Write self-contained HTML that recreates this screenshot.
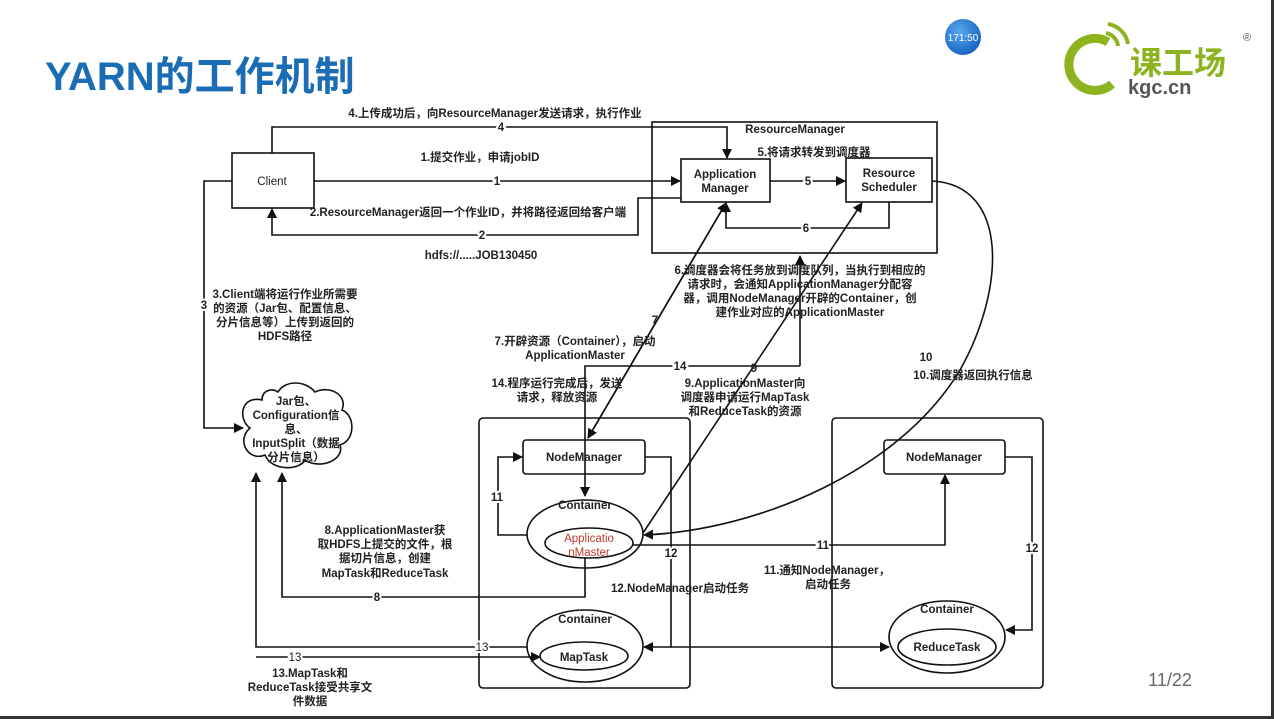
<!DOCTYPE html>
<html><head><meta charset="utf-8"><style>
html,body{margin:0;padding:0;background:#fff;}
svg{display:block;}
text{font-family:"Liberation Sans","Noto Sans CJK SC",sans-serif;font-weight:bold;font-size:11.5px;fill:#222;}
</style></head><body>
<svg width="1274" height="719" viewBox="0 0 1274 719" xmlns="http://www.w3.org/2000/svg">
<defs>
<marker id="a" markerWidth="10" markerHeight="10" refX="9" refY="5" orient="auto" markerUnits="userSpaceOnUse"><path d="M0,0 L10,5 L0,10 z" fill="#111"/></marker>
<radialGradient id="cg" cx="0.4" cy="0.35" r="0.7"><stop offset="0" stop-color="#5aa8f0"/><stop offset="1" stop-color="#1460c0"/></radialGradient>
</defs>
<rect x="0" y="0" width="1274" height="719" fill="#fff"/>
<rect x="1271" y="0" width="3" height="719" fill="#333"/>
<rect x="0" y="716" width="1274" height="3" fill="#333"/>
<text x="45" y="90" style="font-size:40px;fill:#1a6db4;font-weight:bold">YARN的工作机制</text>
<circle cx="963" cy="37" r="18" fill="url(#cg)"/>
<text x="963" y="41" text-anchor="middle" style="font-size:10px;fill:#fff;font-weight:normal">171:50</text>
<path d="M1108,42 A26,26 0 1 0 1112,84" fill="none" stroke="#8db31f" stroke-width="9"/>
<path d="M1106,33 A15,15 0 0 1 1118,46 M1108,24 A24,24 0 0 1 1128,44" fill="none" stroke="#8db31f" stroke-width="4"/>
<text x="1130" y="74" style="font-size:32px;fill:#8db31f">课工场</text>
<text x="1128" y="94" style="font-size:20px;fill:#555">kgc.cn</text>
<text x="1243" y="41" style="font-size:11px;fill:#555;font-weight:normal">®</text>
<text x="1170" y="686" text-anchor="middle" style="font-size:18px;fill:#666;font-weight:normal">11/22</text>

<g fill="none" stroke="#111" stroke-width="1.6">
<rect x="232" y="153" width="82" height="55"/>
<rect x="652" y="122" width="285" height="131"/>
<rect x="681" y="159" width="89" height="43"/>
<rect x="846" y="158" width="86" height="44"/>
<rect x="479" y="418" width="211" height="270" rx="4"/>
<rect x="832" y="418" width="211" height="270" rx="4"/>
<rect x="523" y="440" width="122" height="34" rx="3"/>
<rect x="884" y="440" width="121" height="34" rx="3"/>
<ellipse cx="585" cy="534" rx="58" ry="34"/>
<ellipse cx="589" cy="543" rx="44" ry="15"/>
<ellipse cx="585" cy="646" rx="58" ry="36"/>
<ellipse cx="584" cy="656" rx="44" ry="14"/>
<ellipse cx="947" cy="637" rx="58" ry="36"/>
<ellipse cx="947" cy="647" rx="49" ry="18"/>
<path d="M262,400 C240,395 238,420 250,428 C236,440 248,462 265,455 C272,472 300,470 305,460 C320,470 345,460 340,445 C356,440 355,415 342,410 C348,395 330,385 315,392 C305,380 285,380 278,392 C272,388 262,390 262,400 z"/>

<path d="M272,153 V127 H727 V158" marker-end="url(#a)"/>
<path d="M314,181 H680" marker-end="url(#a)"/>
<path d="M681,198 H638 V235 H272 V209" marker-end="url(#a)"/>
<path d="M770,181 H845" marker-end="url(#a)"/>
<path d="M889,202 V228 H726 V203" marker-end="url(#a)"/>
<path d="M232,181 H204 V428 H243" marker-end="url(#a)"/>
<path d="M588,438 L726,203" marker-end="url(#a)"/>
<path d="M726,203 L588,438" marker-end="url(#a)"/>
<path d="M800,366 H585 V496" marker-end="url(#a)"/>
<path d="M800,366 V256" marker-end="url(#a)"/>
<path d="M643,533 L862,203" marker-end="url(#a)"/>
<path d="M932,181 C1010,185 1005,290 960,370 C900,470 760,530 644,535" marker-end="url(#a)"/>
<path d="M527,535 H498 V457 H522" marker-end="url(#a)"/>
<path d="M645,457 H671 V647 H644" marker-end="url(#a)"/>
<path d="M585,558 V597 H282 V473" marker-end="url(#a)"/>
<path d="M671,647 H889" marker-end="url(#a)"/>
<path d="M527,647 H256 V473" marker-end="url(#a)"/>
<path d="M256,657 H540" marker-end="url(#a)"/>
<path d="M633,545 H945 V475" marker-end="url(#a)"/>
<path d="M1005,457 H1032 V630 H1006" marker-end="url(#a)"/>
</g>

<g text-anchor="middle">
<text x="495" y="117">4.上传成功后，向ResourceManager发送请求，执行作业</text>
<text x="480" y="161">1.提交作业，申请jobID</text>
<text x="468" y="216">2.ResourceManager返回一个作业ID，并将路径返回给客户端</text>
<text x="481" y="259">hdfs://.....JOB130450</text>
<text x="795" y="133">ResourceManager</text>
<text x="814" y="156">5.将请求转发到调度器</text>
<text x="725" y="178">Application</text>
<text x="725" y="192">Manager</text>
<text x="889" y="177">Resource</text>
<text x="889" y="191">Scheduler</text>
<text x="272" y="185" style="font-weight:normal">Client</text>
<g style="paint-order:stroke" stroke="#fff" stroke-width="4">
<text x="501" y="131">4</text>
<text x="497" y="185">1</text>
<text x="482" y="239">2</text>
<text x="808" y="185">5</text>
<text x="806" y="232">6</text>
<text x="204" y="309">3</text>
<text x="680" y="370">14</text>
<text x="377" y="601">8</text>
<text x="823" y="549">11</text>
<text x="497" y="501">11</text>
<text x="671" y="557">12</text>
<text x="1032" y="552">12</text>
<text x="482" y="651" style="font-weight:normal">13</text>
<text x="295" y="661" style="font-weight:normal">13</text>
</g>
<text x="655" y="324">7</text>
<text x="754" y="372">9</text>
<text x="926" y="361">10</text>
<text x="285" y="298">3.Client端将运行作业所需要</text>
<text x="285" y="312">的资源（Jar包、配置信息、</text>
<text x="285" y="326">分片信息等）上传到返回的</text>
<text x="285" y="340">HDFS路径</text>
<text x="800" y="274">6.调度器会将任务放到调度队列，当执行到相应的</text>
<text x="800" y="288">请求时，会通知ApplicationManager分配容</text>
<text x="800" y="302">器，调用NodeManager开辟的Container，创</text>
<text x="800" y="316">建作业对应的ApplicationMaster</text>
<text x="575" y="345">7.开辟资源（Container），启动</text>
<text x="575" y="359">ApplicationMaster</text>
<text x="557" y="387">14.程序运行完成后，发送</text>
<text x="557" y="401">请求，释放资源</text>
<text x="745" y="387">9.ApplicationMaster向</text>
<text x="745" y="401">调度器申请运行MapTask</text>
<text x="745" y="415">和ReduceTask的资源</text>
<text x="973" y="379">10.调度器返回执行信息</text>
<text x="296" y="405">Jar包、</text>
<text x="296" y="419">Configuration信</text>
<text x="296" y="433">息、</text>
<text x="296" y="447">InputSplit（数据</text>
<text x="296" y="461">分片信息）</text>
<text x="584" y="461">NodeManager</text>
<text x="944" y="461">NodeManager</text>
<text x="585" y="509">Container</text>
<text x="589" y="542" style="fill:#c0392b;font-weight:normal">Applicatio</text>
<text x="589" y="556" style="fill:#c0392b;font-weight:normal">nMaster</text>
<text x="585" y="623">Container</text>
<text x="584" y="661">MapTask</text>
<text x="947" y="613">Container</text>
<text x="947" y="651">ReduceTask</text>
<text x="385" y="534">8.ApplicationMaster获</text>
<text x="385" y="548">取HDFS上提交的文件，根</text>
<text x="385" y="562">据切片信息，创建</text>
<text x="385" y="577">MapTask和ReduceTask</text>
<text x="680" y="592">12.NodeManager启动任务</text>
<text x="827" y="574">11.通知NodeManager，</text>
<text x="828" y="588">启动任务</text>
<text x="310" y="677">13.MapTask和</text>
<text x="310" y="691">ReduceTask接受共享文</text>
<text x="310" y="705">件数据</text>
</g>
</svg>
</body></html>
